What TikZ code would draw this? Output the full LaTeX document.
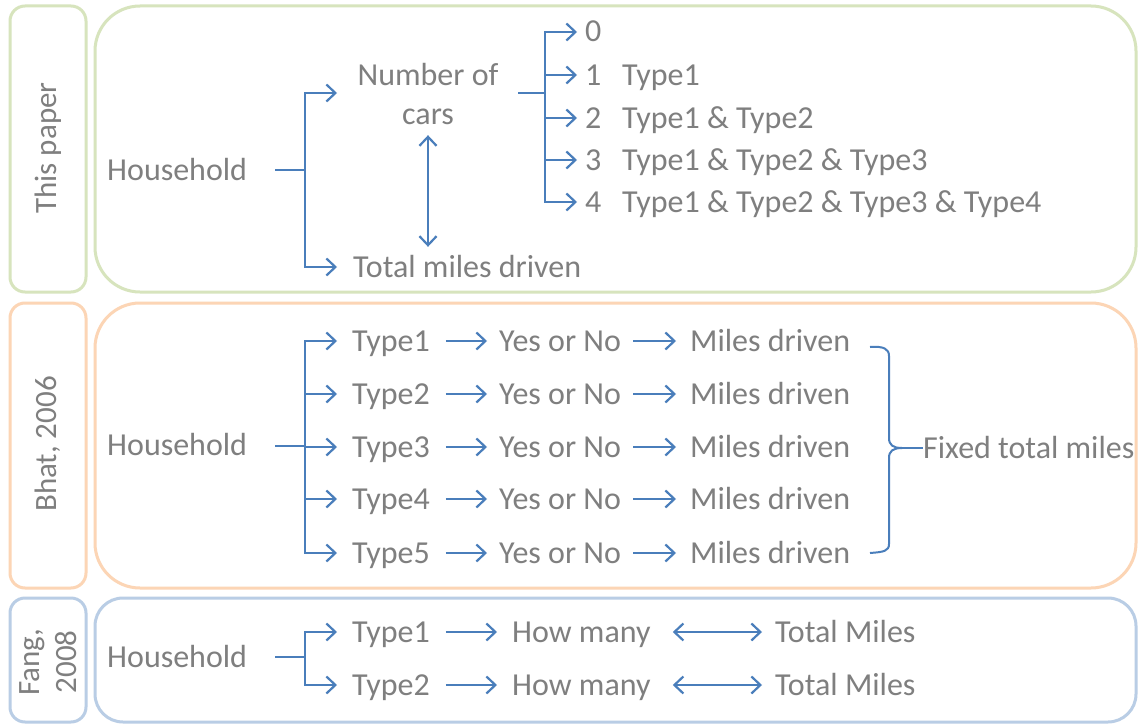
\documentclass[tikz,border=0pt]{standalone}
\usepackage{fontspec}
\setmainfont{Carlito}
\usetikzlibrary{arrows.meta}
\definecolor{tgray}{HTML}{7F7F7F}
\definecolor{ablue}{HTML}{4A7EBB}
\definecolor{gbord}{HTML}{D7E4BD}
\definecolor{obord}{HTML}{FCD5B5}
\definecolor{bbord}{HTML}{B9CDE5}
\begin{document}
\begin{tikzpicture}[x=1pt,y=-1pt,
  txt/.style={font=\fontsize{32}{38}\selectfont, text=tgray, inner sep=0pt, text height=20pt, text depth=0pt, anchor=west},
  lbl/.style={font=\fontsize{31}{37}\selectfont, text=tgray, rotate=90, align=center},
  conn/.style={draw=ablue, line width=2.4pt},
  arr/.style={conn, -{Straight Barb[length=9pt,width=17pt,line width=2.2pt]}},
  darr/.style={conn, {Straight Barb[length=9pt,width=17pt,line width=2.2pt]}-{Straight Barb[length=9pt,width=17pt,line width=2.2pt]}},
  sidebox/.style={line width=3pt, rounded corners=15pt},
  mainbox/.style={line width=3pt, rounded corners=45pt}]
\useasboundingbox (0,0) rectangle (1138,725);
\fill[white] (0,0) rectangle (1138,725);

% frames
\draw[sidebox, gbord] (10,6) rectangle (86,292);
\draw[mainbox, gbord] (95,6) rectangle (1136,292);
\draw[sidebox, obord] (10,303) rectangle (86,588);
\draw[mainbox, obord] (95,303) rectangle (1136,588);
\draw[sidebox, bbord] (10,598) rectangle (86,722);
\draw[mainbox, bbord, rounded corners=28pt] (95,598) rectangle (1136,722);

% side labels
\node[lbl] (labA) at (48,148) {This paper};
\node[lbl] (labB) at (48,444) {Bhat, 2006};
\node[lbl] (labC) at (48,662) {Fang,\\2008};

% ---------- This paper ----------
\node[txt] (hA) at (107,170) {Household};
\coordinate (sA) at (275,170);
\coordinate (jA) at (305,170);
\draw[conn] (sA) -- (jA);
\node[txt, anchor=center] (carsA) at (428,75) {Number of};
\node[txt, anchor=center] (carsB) at (428,114) {cars};
\coordinate (eCars) at (337,93);
\draw[arr] (jA) |- (eCars);
\node[txt] (tmA) at (353,267) {Total miles driven};
\draw[arr, shorten >=16pt] (jA) |- (tmA.west);
\draw[darr, shorten <=11pt, shorten >=10pt] (carsB.south) -- (carsB.south |- tmA.north);

\coordinate (sB) at (518,93);
\coordinate (jB) at (545,93);
\draw[conn] (sB) -- (jB);
\foreach \i/\y/\t in {0/32/{}, 1/75/{Type1}, 2/118/{Type1 \& Type2}, 3/160/{Type1 \& Type2 \& Type3}, 4/202/{Type1 \& Type2 \& Type3 \& Type4}}{
  \node[txt] (n\i) at (585,\y) {\i};
  \node[txt] (c\i) at (622,\y) {\t};
  \draw[arr, shorten >=8pt] (jB) |- (n\i.west);
}

% ---------- Bhat, 2006 ----------
\node[txt] (hB) at (107,445) {Household};
\coordinate (sC) at (275,446);
\coordinate (jC) at (305,446);
\draw[conn] (sC) -- (jC);
\foreach \i/\y in {1/341, 2/394, 3/447, 4/499, 5/553}{
  \node[txt] (tB\i) at (352,\y) {Type\i};
  \node[txt] (yB\i) at (499,\y) {Yes or No};
  \node[txt] (mB\i) at (690,\y) {Miles driven};
  \draw[arr, shorten >=15pt] (jC) |- (tB\i.west);
  \draw[arr, shorten <=16pt, shorten >=12pt] (tB\i.east) -- (yB\i.west);
  \draw[arr, shorten <=12pt, shorten >=14pt] (yB\i.east) -- (mB\i.west);
}
% brace
\node[txt] (fx) at (923,448) {Fixed total miles};
\coordinate (bTop) at (870,347);
\coordinate (bBot) at (870,553);
\coordinate (bTip) at (902,448);
\draw[ablue, line width=2pt] (bTop) .. controls (884,346) and (889,349) .. (889,356)
  -- (889,438) .. controls (889,445) and (893,448) .. (bTip)
  .. controls (893,448) and (889,451) .. (889,458)
  -- (889,544) .. controls (889,551) and (884,552) .. (bBot);
\draw[ablue, line width=2pt] (bTip) -- (fx.west);

% ---------- Fang, 2008 ----------
\node[txt] (hC) at (107,657) {Household};
\coordinate (sD) at (275,657);
\coordinate (jD) at (305,657);
\draw[conn] (sD) -- (jD);
\foreach \i/\y in {1/632, 2/685}{
  \node[txt] (tC\i) at (352,\y) {Type\i};
  \node[txt] (hm\i) at (512,\y) {How many};
  \node[txt] (tt\i) at (775,\y) {Total Miles};
  \draw[arr, shorten >=15pt] (jD) |- (tC\i.west);
  \draw[arr, shorten <=16pt, shorten >=15pt] (tC\i.east) -- (hm\i.west);
  \draw[darr, shorten <=22pt, shorten >=13pt] (hm\i.east) -- (tt\i.west);
}
\end{tikzpicture}
\end{document}
